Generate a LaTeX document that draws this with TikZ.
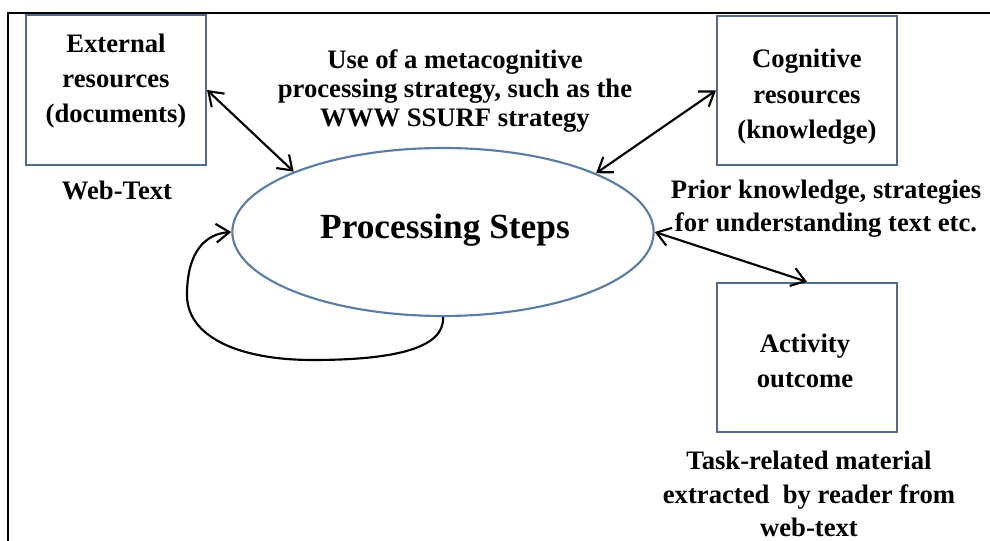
\documentclass[tikz,border=0pt]{standalone}
\usepackage{fontspec}
\setmainfont{Liberation Serif}
\usetikzlibrary{arrows.meta,shapes.geometric}
\definecolor{boxblue}{HTML}{4F6B8E}
\definecolor{ellblue}{HTML}{5B7DA3}
\begin{document}
\begin{tikzpicture}[x=0.75pt,y=-0.75pt,
  box/.style={draw=boxblue,line width=1.6pt,minimum width=135pt,minimum height=112pt,inner sep=0pt},
  boxtext/.style={font=\bfseries\fontsize{20}{26.5}\selectfont,align=center,inner sep=0pt},
  lbl/.style={font=\bfseries\fontsize{20}{25}\selectfont,align=center,inner sep=0pt},
  tip/.tip={Straight Barb[length=10pt,width=14pt]},
  conn/.style={line width=1.6pt,tip-tip},
  loopar/.style={line width=1.6pt,-tip},
  frame/.style={line width=2.2pt,black}
]
\useasboundingbox (0,0) rectangle (990,541);
% frame
\coordinate (fa) at (8,541);
\coordinate (fb) at (8,13);
\coordinate (fc) at (990,13);
\draw[frame] (fa) -- (fb) -- (fc);

% boxes
\node[box] (ext) at (116,90) {};
\node[box] (cog) at (807,90.5) {};
\node[box] (act) at (807,357.5) {};
\node[boxtext] (extT) at (116,81) {External\\resources\\(documents)};
\node[boxtext] (cogT) at (807,97) {Cognitive\\resources\\(knowledge)};
\node[boxtext] (actT) at (805,361) {Activity\\outcome};

% ellipse
\node[draw=ellblue,line width=1.6pt,ellipse,minimum width=316pt,minimum height=126pt,inner sep=0pt] (ps) at (443,232) {};
\node[font=\bfseries\fontsize{26.5}{30}\selectfont,inner sep=0pt] (psT) at (445,230) {Processing Steps};

% labels
\node[lbl] (webT) at (117,190) {Web-Text};
\node[lbl,font=\bfseries\fontsize{20}{22}\selectfont] (meta) at (455,91) {Use of a metacognitive\\processing strategy, such as the\\WWW SSURF strategy};
\node[lbl] (prior) at (826,209) {Prior knowledge, strategies\\for understanding text etc.};
\node[lbl] (task) at (809,494) {Task-related material\\extracted~ by reader from\\web-text};

% connectors
\draw[conn] (ext.east) -- (ps.158);
\draw[conn] (cog.west) -- (ps.21);
\draw[conn] (ps.east) -- (act.north);
\draw[loopar] (ps.south) .. controls (445,348) and (395,360) .. (313,360)
  .. controls (235,360) and (187,335) .. (187,295)
  .. controls (187,252) and (205,234) .. (ps.west);
\end{tikzpicture}
\end{document}
